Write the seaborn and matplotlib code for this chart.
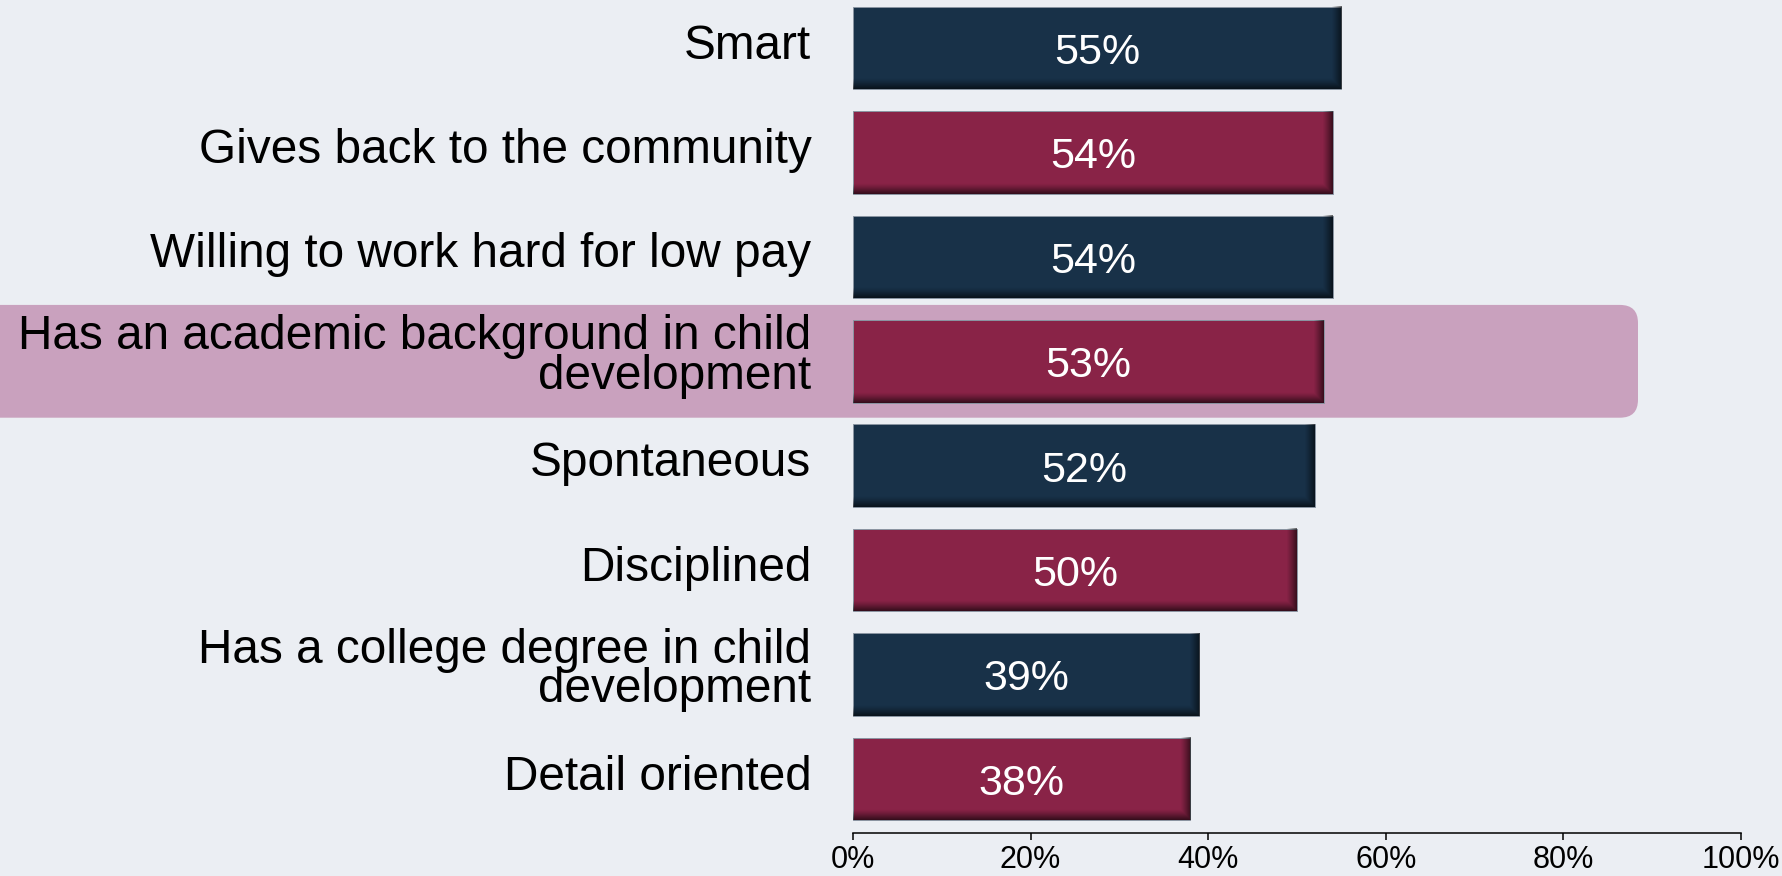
import numpy as np
import matplotlib.pyplot as plt
import seaborn as sns
from matplotlib.patches import FancyBboxPatch
from matplotlib.transforms import IdentityTransform, ScaledTranslation

# Данные
categories = ["Smart", "Gives back to the community", "Willing to work hard for low pay",
              "Has an academic background in child\ndevelopment", "Spontaneous", "Disciplined",
              "Has a college degree in child\ndevelopment", "Detail oriented"]
values = [55, 54, 54, 53, 52, 50, 39, 38]
bar_colors = ["#183148", "#892347", "#183148", "#892347", "#183148", "#892347", "#183148", "#892347"]
highlight = "Has an academic background in child\ndevelopment"
highlight_right = 88.4
xticks = [0, 20, 40, 60, 80, 100]

bg = "#EBEEF3"
hl_color = "#C9A1BE"

sns.set_theme(style="white")
plt.rcParams['font.family'] = ['Liberation Sans', 'DejaVu Sans']

W, H = 1783, 876
fig = plt.figure(figsize=(W / 100, H / 100), dpi=100, facecolor=bg)
ax = fig.add_axes([853 / W, 43 / H, 888 / W, 833 / H])

sns.barplot(x=values, y=categories, hue=categories, palette=bar_colors, orient="h",
            width=0.79, saturation=1, legend=False, ax=ax,
            edgecolor="#8a95a2", linewidth=0.7)

# Подписи внутри столбцов
for c in ax.containers:
    anns = ax.bar_label(c, labels=[f"{v:.0f}%" for v in c.datavalues], label_type="center",
                        color="white", fontsize=31)
    for a in anns:
        a.xyann = (0, -3.5)

# Тень по правому и нижнему краю
bars = [p for p in ax.patches]
for p in bars:
    x0, y0, w, h = p.get_x(), p.get_y(), p.get_width(), p.get_height()
    nx, ny = int(w * 888 / 100), int(h * 104.4)
    xs = np.arange(nx)[None, :]
    ys = np.arange(ny)[:, None]
    ar = np.clip((xs - (nx - 11)) / 11, 0, 1) ** 1.2 * 0.65
    ab = np.clip((ys - (ny - 11)) / 11, 0, 1) ** 1.2 * 0.68
    img = np.zeros((ny, nx, 4))
    img[..., 3] = np.maximum(ar, ab)
    ax.imshow(img, extent=(x0, x0 + w, y0, y0 + h), origin="lower", aspect="auto",
              interpolation="bilinear", zorder=p.get_zorder() + 0.1)

ax.set_xlim(0, 100)
ax.set_ylim(7.517, -0.46)
ax.patch.set_visible(False)
for s in ["top", "right", "left"]:
    ax.spines[s].set_visible(False)
ax.spines["bottom"].set_color("black")
ax.spines["bottom"].set_linewidth(1.1)

ax.set_xticks(xticks)
ax.set_xticklabels([f"{t}%" for t in xticks], fontsize=22,
                   family=["Liberation Sans Narrow", "DejaVu Sans Condensed", "Liberation Sans"])
ax.tick_params(axis="x", bottom=True, length=5, width=1.1, color="black", labelcolor="black",
               pad=4, direction="out")
ax.tick_params(axis="y", left=False, length=0, pad=30, labelsize=34.4, labelcolor="black")
shift = ScaledTranslation(0, 0.07, fig.dpi_scale_trans)
for lab in ax.get_yticklabels():
    lab.set_linespacing(0.85)
    lab.set_transform(lab.get_transform() + shift)
ax.set_xlabel("")
ax.set_ylabel("")

# Подсветка строки
i = categories.index(highlight)
xr = ax.transData.transform((highlight_right, i))[0]
ytop = ax.transData.transform((0, i - 0.54))[1]
ybot = ax.transData.transform((0, i + 0.54))[1]
box = FancyBboxPatch((-40, ybot), xr + 40, ytop - ybot,
                     boxstyle="round,pad=0,rounding_size=18", transform=IdentityTransform(),
                     facecolor=hl_color, edgecolor="none", zorder=-1)
fig.add_artist(box)

fig.savefig("out.png", dpi=100, facecolor=bg)
